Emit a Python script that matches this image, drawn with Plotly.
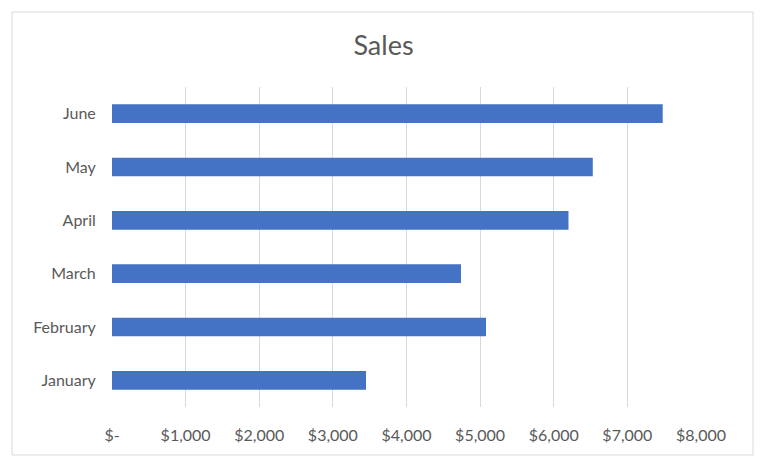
import plotly.graph_objects as go

months = ["January", "February", "March", "April", "May", "June"]
sales = [3450, 5080, 4740, 6200, 6530, 7480]
tick_vals = [0, 1000, 2000, 3000, 4000, 5000, 6000, 7000, 8000]
tick_text = ["$-", "$1,000", "$2,000", "$3,000", "$4,000", "$5,000", "$6,000", "$7,000", "$8,000"]

W, H = 767, 469
L, R, T, B = 112, 66, 87, 62
pw, ph = W - L - R, H - T - B

def px_x(x):
    return (x - L) / pw

def px_y(y):
    return (H - B - y) / ph

fig = go.Figure(go.Bar(
    x=sales, y=months, orientation="h",
    marker=dict(color="#4472C4", line=dict(width=0)),
))

fig.update_layout(
    width=W, height=H,
    margin=dict(l=L, r=R, t=T, b=B),
    paper_bgcolor="white", plot_bgcolor="white",
    bargap=0.65,
    showlegend=False,
    font=dict(family="Lato, 'Open Sans', sans-serif", color="#595959", size=16),
    title=dict(text="Sales", x=0.5, xref="container", xanchor="center",
               y=1 - 46 / H, yref="container", yanchor="middle",
               font=dict(size=27, color="#595959")),
    xaxis=dict(range=[0, 8000], tickvals=tick_vals, ticktext=tick_text,
               showgrid=True, gridcolor="#D9D9D9", gridwidth=1.3,
               zeroline=False, showline=False,
               ticks="outside", ticklen=14, tickcolor="rgba(0,0,0,0)",
               fixedrange=True),
    yaxis=dict(showgrid=False, zeroline=False, showline=False,
               ticks="outside", ticklen=12, tickcolor="rgba(0,0,0,0)",
               fixedrange=True),
    shapes=[dict(type="rect", xref="paper", yref="paper",
                 x0=px_x(12), x1=px_x(753), y0=px_y(455), y1=px_y(12),
                 line=dict(color="#D9D9D9", width=1), fillcolor="rgba(0,0,0,0)",
                 layer="below")],
)

fig.write_html("out.html")
